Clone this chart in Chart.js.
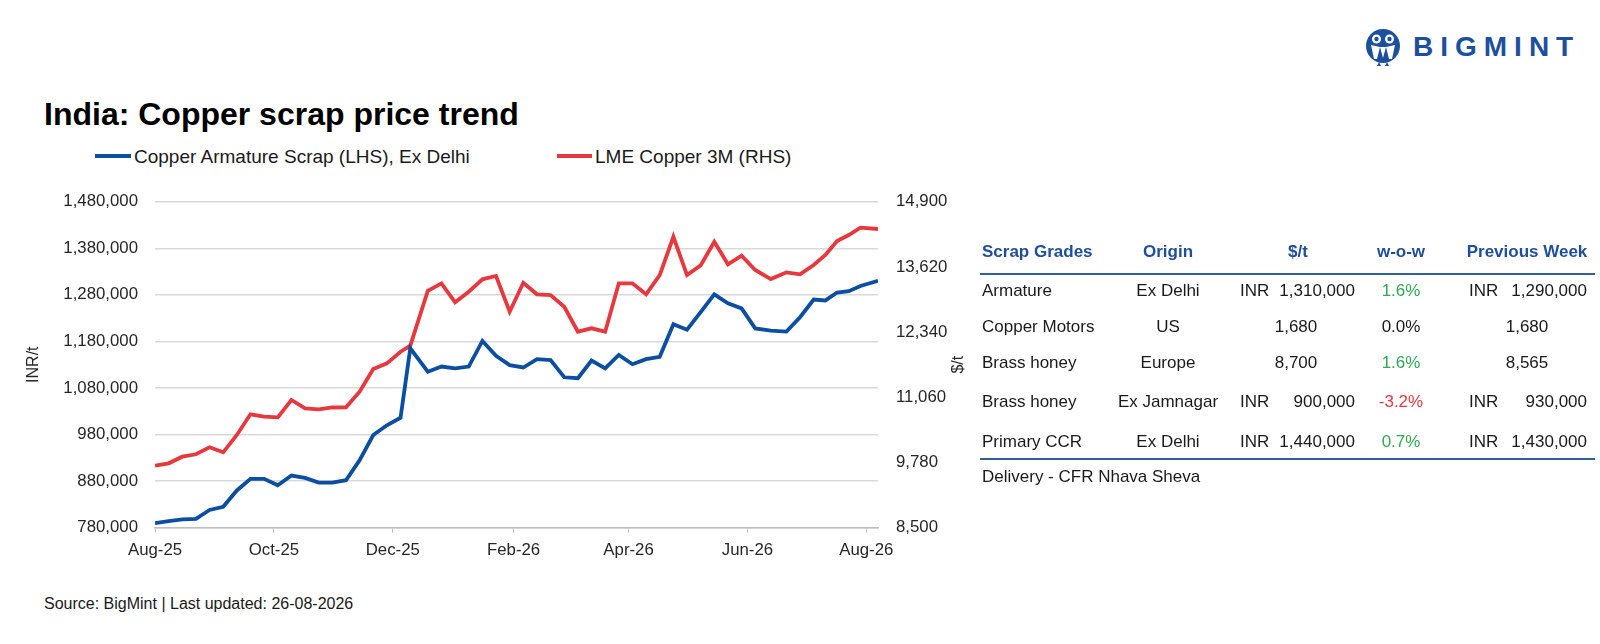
<!DOCTYPE html>
<html>
<head>
<meta charset="utf-8">
<title>India: Copper scrap price trend</title>
<script src="https://cdn.jsdelivr.net/npm/chart.js@4.4.1/dist/chart.umd.min.js"></script>
<style>
  body { margin: 0; background: #fff; font-family: "Liberation Sans", Arial, sans-serif; color: #1a1a1a; }
  #page { position: relative; width: 1600px; height: 644px; overflow: hidden; }
  .abs { position: absolute; white-space: nowrap; line-height: 1; }
  #title { left: 44px; top: 98px; font-size: 32px; font-weight: bold; color: #000; }
  .leg-line { position: absolute; height: 4px; }
  .leg-text { font-size: 19px; color: #1a1a1a; }
  #source { left: 44px; top: 596px; font-size: 16px; color: #1a1a1a; }
  #chartBox { position: absolute; left: 0; top: 170px; width: 1000px; height: 400px; }
  .th { font-size: 17px; font-weight: bold; color: #1f4e9c; }
  .td { font-size: 17px; color: #1a1a1a; }
  .rule { position: absolute; left: 980px; width: 615px; height: 2px; background: #2f5f9e; }
  #logoText { left: 1413px; top: 33px; font-size: 28px; font-weight: bold; color: #1d4f9f; letter-spacing: 7px; }
</style>
</head>
<body>
<div id="page">
  <svg style="position:absolute;left:1364px;top:28px" width="38" height="42" viewBox="0 0 38 42">
    <circle cx="19" cy="18" r="17" fill="#1d4f9f"/>
    <circle cx="12.5" cy="11" r="4.5" fill="#fff"/>
    <circle cx="25.5" cy="11" r="4.5" fill="#fff"/>
    <circle cx="12.5" cy="11" r="2.2" fill="#1d4f9f"/>
    <circle cx="25.5" cy="11" r="2.2" fill="#1d4f9f"/>
    <path d="M7 17 L10 31 L13 31 L16 19 Z" fill="#fff"/>
    <path d="M31 17 L28 31 L25 31 L22 19 Z" fill="#fff"/>
    <path d="M16 19 L19 30 L22 19 Z" fill="#fff"/>
    <path d="M13 38 L15 34 L17 38 Z M21 38 L23 34 L25 38 Z" fill="#1d4f9f"/>
  </svg>
  <div id="logoText" class="abs">BIGMINT</div>

  <div id="title" class="abs">India: Copper scrap price trend</div>

  <div class="leg-line" style="left:95px;top:154px;width:36px;background:#0b4ea2"></div>
  <div class="abs leg-text" style="left:134px;top:146.5px">Copper Armature Scrap (LHS), Ex Delhi</div>
  <div class="leg-line" style="left:557px;top:154px;width:35px;background:#e8383d"></div>
  <div class="abs leg-text" style="left:595px;top:146.5px">LME Copper 3M (RHS)</div>

  <div id="chartBox"><canvas id="graph"></canvas></div>

  <div id="tableBox"></div>

  <div id="source" class="abs">Source: BigMint | Last updated: 26-08-2026</div>
</div>

<script>
// -------------------------
// DATA
// -------------------------
const weekDates = [
  "2025-08-01", "2025-08-08", "2025-08-15", "2025-08-22", "2025-08-29",
  "2025-09-05", "2025-09-12", "2025-09-19", "2025-09-26", "2025-10-03",
  "2025-10-10", "2025-10-17", "2025-10-24", "2025-10-31", "2025-11-07",
  "2025-11-14", "2025-11-21", "2025-11-28", "2025-12-05", "2025-12-10",
  "2025-12-19", "2025-12-26", "2026-01-02", "2026-01-09", "2026-01-16",
  "2026-01-23", "2026-01-30", "2026-02-06", "2026-02-13", "2026-02-20",
  "2026-02-27", "2026-03-06", "2026-03-13", "2026-03-20", "2026-03-27",
  "2026-04-03", "2026-04-10", "2026-04-17", "2026-04-24", "2026-05-01",
  "2026-05-08", "2026-05-15", "2026-05-22", "2026-05-29", "2026-06-05",
  "2026-06-13", "2026-06-21", "2026-06-28", "2026-07-05", "2026-07-11",
  "2026-07-17", "2026-07-23", "2026-07-29", "2026-08-07"
];

// Copper Armature Scrap, Ex Delhi (INR/t)
const armatureInr = [
  790000, 794000, 798000, 799000, 818000, 825000, 860000, 885000, 885000, 871000,
  892000, 887000, 877000, 877000, 882000, 925000, 979000, 1000000, 1016000, 1165000,
  1115000, 1126000, 1122000, 1126000, 1181000, 1149000, 1129000, 1124000, 1142000, 1140000,
  1103000, 1101000, 1139000, 1122000, 1151000, 1131000, 1142000, 1147000, 1217000, 1205000,
  1243000, 1281000, 1262000, 1251000, 1208000, 1203000, 1201000, 1232000, 1270000, 1268000,
  1285000, 1288000, 1299000, 1310000
];

// LME Copper 3M ($/t)
const lmeUsd = [
  9720, 9764, 9894, 9941, 10078, 9980, 10320, 10726, 10679, 10667,
  11007, 10844, 10824, 10860, 10863, 11170, 11615, 11727, 11955, 12073,
  13152, 13297, 12925, 13133, 13376, 13441, 12740, 13310, 13082, 13068,
  12838, 12348, 12414, 12348, 13297, 13297, 13082, 13460, 14212, 13460,
  13650, 14114, 13671, 13840, 13559, 13382, 13513, 13474, 13657, 13853,
  14128, 14246, 14389, 14364
];

const tickDates = ["2025-08-01", "2025-10-01", "2025-12-01", "2026-02-01", "2026-04-01", "2026-06-01", "2026-08-01"];
const tickLabels = ["Aug-25", "Oct-25", "Dec-25", "Feb-26", "Apr-26", "Jun-26", "Aug-26"];
const leftTicks = [780000, 880000, 980000, 1080000, 1180000, 1280000, 1380000, 1480000];
const rightTicks = [8500, 9780, 11060, 12340, 13620, 14900];

// table
const tableHeaders = ["Scrap Grades", "Origin", "$/t", "w-o-w", "Previous Week"];
const gradeNames = ["Armature", "Copper Motors", "Brass honey", "Brass honey", "Primary CCR"];
const gradeOrigins = ["Ex Delhi", "US", "Europe", "Ex Jamnagar", "Ex Delhi"];
const priceCurrency = ["INR", "", "", "INR", "INR"];
const gradePrices = ["1,310,000", "1,680", "8,700", "900,000", "1,440,000"];
const wowChanges = ["1.6%", "0.0%", "1.6%", "-3.2%", "0.7%"];
const prevPrices = ["1,290,000", "1,680", "8,565", "930,000", "1,430,000"];

// -------------------------
// HELPERS
// -------------------------
const DAY = 86400000;
const dayOf = d => (Date.parse(d) - Date.parse(weekDates[0])) / DAY;
const fmt = v => v.toLocaleString("en-US");
const FONT = "'Liberation Sans', Arial, sans-serif";
const TXT = "#262626";

// -------------------------
// CHART
// -------------------------
const rightTitle = {
  id: "rightTitle",
  afterDraw(c) {
    const ctx = c.ctx;
    ctx.save();
    ctx.translate(c.scales.y1.right - 41, (c.chartArea.top + c.chartArea.bottom) / 2);
    ctx.rotate(-Math.PI / 2);
    ctx.font = "16px " + FONT;
    ctx.fillStyle = TXT;
    ctx.textAlign = "center";
    ctx.textBaseline = "middle";
    ctx.fillText("$/t", 0, 0);
    ctx.restore();
  }
};

function initChart() {
  const ctx = document.getElementById("graph").getContext("2d");
  Chart.defaults.font.family = FONT;
  Chart.defaults.color = TXT;

  new Chart(ctx, {
    type: "line",
    data: {
      datasets: [{
        label: "Copper Armature Scrap (LHS), Ex Delhi",
        data: weekDates.map((d, i) => ({ x: dayOf(d), y: armatureInr[i] })),
        borderColor: "#0b4ea2",
        borderWidth: 3.8,
        pointRadius: 0,
        tension: 0,
        fill: false,
        yAxisID: "y"
      }, {
        label: "LME Copper 3M (RHS)",
        data: weekDates.map((d, i) => ({ x: dayOf(d), y: lmeUsd[i] })),
        borderColor: "#e8383d",
        borderWidth: 3.8,
        pointRadius: 0,
        tension: 0,
        fill: false,
        yAxisID: "y1"
      }]
    },
    options: {
      responsive: true,
      maintainAspectRatio: false,
      animation: false,
      layout: { padding: { top: 31.7, left: 0, right: 0, bottom: 0 } },
      plugins: { legend: { display: false }, tooltip: { enabled: false } },
      scales: {
        x: {
          type: "linear",
          min: 0,
          max: dayOf(weekDates[weekDates.length - 1]),
          afterBuildTicks: s => { s.ticks = tickDates.map(d => ({ value: dayOf(d) })); },
          ticks: {
            autoSkip: false, maxRotation: 0, padding: 8,
            font: { size: 16.8 },
            callback: (v, i) => tickLabels[i]
          },
          grid: { drawOnChartArea: false, tickLength: 5, color: "#bfbfbf" },
          border: { display: true, color: "#bfbfbf", width: 1.5 },
          afterFit: s => { s.height = 42.3; }
        },
        y: {
          position: "left",
          min: leftTicks[0],
          max: leftTicks[leftTicks.length - 1],
          afterBuildTicks: s => { s.ticks = leftTicks.map(v => ({ value: v })); },
          ticks: { padding: 17, font: { size: 16.8 }, callback: v => fmt(v) },
          grid: { color: "#d9d9d9", lineWidth: 1.5, drawTicks: false },
          border: { display: false },
          title: { display: true, text: "INR/t", font: { size: 16 }, padding: { top: 24, bottom: 0 } },
          afterFit: s => { s.width = 155; }
        },
        y1: {
          position: "right",
          min: rightTicks[0],
          max: rightTicks[rightTicks.length - 1],
          afterBuildTicks: s => { s.ticks = rightTicks.map(v => ({ value: v })); },
          ticks: { padding: 18, font: { size: 16.8 }, callback: v => fmt(v) },
          grid: { drawOnChartArea: false, drawTicks: false },
          border: { display: false },
          afterFit: s => { s.width = 122; }
        }
      }
    },
    plugins: [rightTitle]
  });
}

// -------------------------
// TABLE
// -------------------------
function cell(text, cls, x, yc, align, color) {
  const el = document.createElement("div");
  el.className = "abs " + cls;
  el.textContent = text;
  el.style.top = (yc - 8.5) + "px";
  if (align === "left") el.style.left = x + "px";
  else if (align === "right") { el.style.left = (x - 300) + "px"; el.style.width = "300px"; el.style.textAlign = "right"; }
  else { el.style.left = (x - 150) + "px"; el.style.width = "300px"; el.style.textAlign = "center"; }
  if (color) el.style.color = color;
  document.getElementById("tableBox").appendChild(el);
}

function buildTable() {
  const headY = 251;
  const rowY = [290, 326.5, 362, 401, 441];
  const headX = [[982, "left"], [1168, "center"], [1298, "center"], [1401, "center"], [1527, "center"]];
  tableHeaders.forEach((h, i) => cell(h, "th", headX[i][0], headY, headX[i][1]));

  gradeNames.forEach((g, i) => {
    const y = rowY[i];
    cell(g, "td", 982, y, "left");
    cell(gradeOrigins[i], "td", 1168, y, "center");
    if (priceCurrency[i]) {
      cell(priceCurrency[i], "td", 1240, y, "left");
      cell(gradePrices[i], "td", 1355, y, "right");
      cell(priceCurrency[i], "td", 1469, y, "left");
      cell(prevPrices[i], "td", 1587, y, "right");
    } else {
      cell(gradePrices[i], "td", 1296, y, "center");
      cell(prevPrices[i], "td", 1527, y, "center");
    }
    const w = parseFloat(wowChanges[i]);
    cell(wowChanges[i], "td", 1401, y, "center", w > 0 ? "#2eaa50" : (w < 0 ? "#e8383d" : null));
  });

  const box = document.getElementById("tableBox");
  [272.5, 458].forEach(t => {
    const r = document.createElement("div");
    r.className = "rule";
    r.style.top = t + "px";
    box.appendChild(r);
  });
  cell("Delivery - CFR Nhava Sheva", "td", 982, 476.5, "left");
}

// -------------------------
// START
// -------------------------
initChart();
buildTable();
</script>
</body>
</html>
